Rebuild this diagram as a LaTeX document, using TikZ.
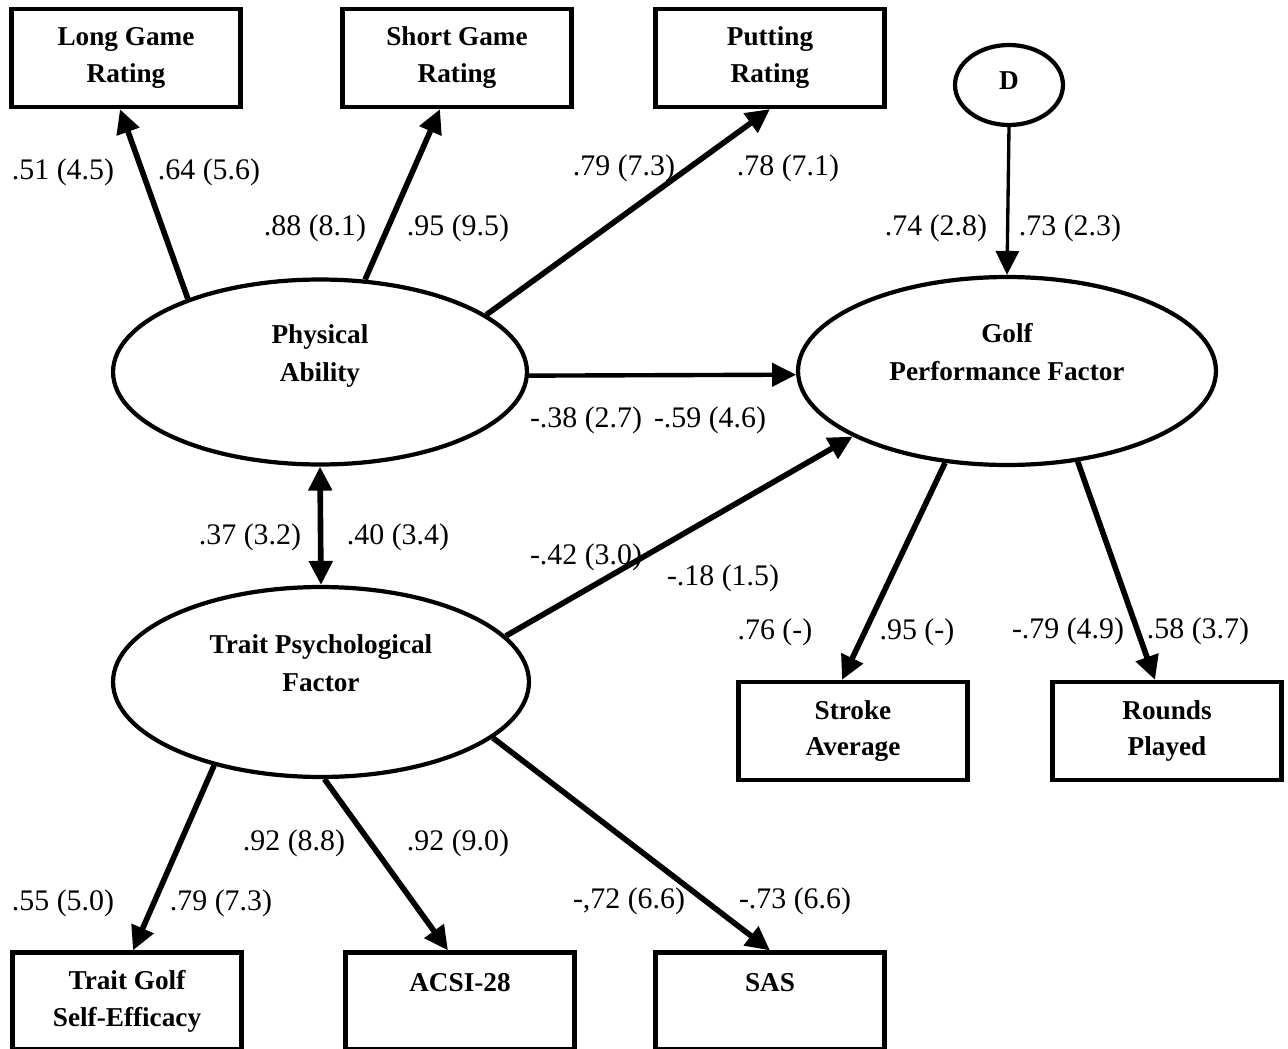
\documentclass[tikz,border=0pt]{standalone}
\usepackage{fontspec}
\setmainfont{Liberation Serif}
\usepackage{tikz}
\usetikzlibrary{shapes.geometric, arrows.meta}

\begin{document}
\begin{tikzpicture}[x=0.02cm, y=-0.02cm,
    obs/.style={draw, line width=2.4pt, minimum width=4.58cm, minimum height=1.96cm, inner sep=0pt,
      align=center, font=\bfseries\fontsize{15.5}{21}\selectfont},
    lat/.style={draw, ellipse, line width=2.4pt, inner sep=0pt, align=center,
      font=\bfseries\fontsize{15.5}{21.5}\selectfont},
    arr/.style={line width=3.2pt, -{Triangle[length=0.48cm, width=0.46cm]}},
    lab/.style={font=\fontsize{17}{20}\selectfont, inner sep=0pt}]
  \useasboundingbox (0,0) rectangle (1288,1048);
  \node[obs] (lg) at (126,58) {Long Game\\Rating};
  \node[obs] (sg) at (457,58) {Short Game\\Rating};
  \node[obs] (pr) at (770,58) {Putting\\Rating};
  \node[lat, minimum width=2.16cm, minimum height=1.6cm] (d) at (1009,85) {\raisebox{0.16cm}{D}};
  \node[lat, minimum width=8.28cm, minimum height=3.7cm] (phys) at (320,372) {Physical\\Ability\\~};
  \node[lat, minimum width=8.36cm, minimum height=3.76cm] (golf) at (1007,371) {Golf\\Performance Factor\\~};
  \node[lat, minimum width=8.32cm, minimum height=3.8cm] (trait) at (321,682) {Trait Psychological\\Factor\\~};
  \node[obs] (stroke) at (853,731) {Stroke\\Average};
  \node[obs] (rounds) at (1167,731) {Rounds\\Played};
  \node[obs, minimum height=1.94cm] (tgse) at (127,1001) {Trait Golf\\Self-Efficacy};
  \node[obs, minimum height=1.94cm] (acsi) at (460,1001) {ACSI-28\\~};
  \node[obs, minimum height=1.94cm] (sas) at (770,1001) {SAS\\~};

  \draw[arr] (phys.151) -- ([xshift=-0.12cm]lg.south);
  \draw[arr] (phys.64) -- ([xshift=-0.34cm]sg.south);
  \draw[arr] (phys.19) -- (pr.south);
  \draw[arr, line width=1.9pt] (d.south) -- (golf.north);
  \draw[arr, line width=2.5pt] (phys.-1) -- (golf.181);
  \draw[arr, {Triangle[length=0.48cm, width=0.46cm]}-{Triangle[length=0.48cm, width=0.46cm]}] (phys.south) -- (trait.north);
  \draw[arr] (trait.14) -- (golf.203);
  \draw[arr] (golf.236) -- ([xshift=-0.22cm]stroke.north);
  \draw[arr] (golf.308) -- ([xshift=-0.24cm]rounds.north);
  \draw[arr] (trait.218) -- ([xshift=0.12cm]tgse.north);
  \draw[arr] (trait.272) -- ([xshift=-0.24cm]acsi.north);
  \draw[arr] (trait.342) -- (sas.north);

  \foreach \x/\y/\t [count=\i] in {63/172/{.51 (4.5)}, 209/172/{.64 (5.6)}, 315/228/{.88 (8.1)},
      458/228/{.95 (9.5)}, 624/168/{.79 (7.3)}, 788/168/{.78 (7.1)}, 936/228/{.74 (2.8)},
      1070/228/{.73 (2.3)}, 586/420/{-.38 (2.7)}, 710/420/{-.59 (4.6)}, 250/537/{.37 (3.2)},
      398/537/{.40 (3.4)}, 586/557/{-.42 (3.0)}, 723/578/{-.18 (1.5)}, 775/632/{.76 (-)},
      917/632/{.95 (-)}, 1068/631/{-.79 (4.9)}, 1198/631/{.58 (3.7)}, 294/843/{.92 (8.8)},
      458/843/{.92 (9.0)}, 63/903/{.55 (5.0)}, 221/903/{.79 (7.3)}, 629/901/{-,72 (6.6)},
      795/901/{-.73 (6.6)}}
    \node[lab] (w\i) at (\x,\y) {\t};
\end{tikzpicture}
\end{document}
